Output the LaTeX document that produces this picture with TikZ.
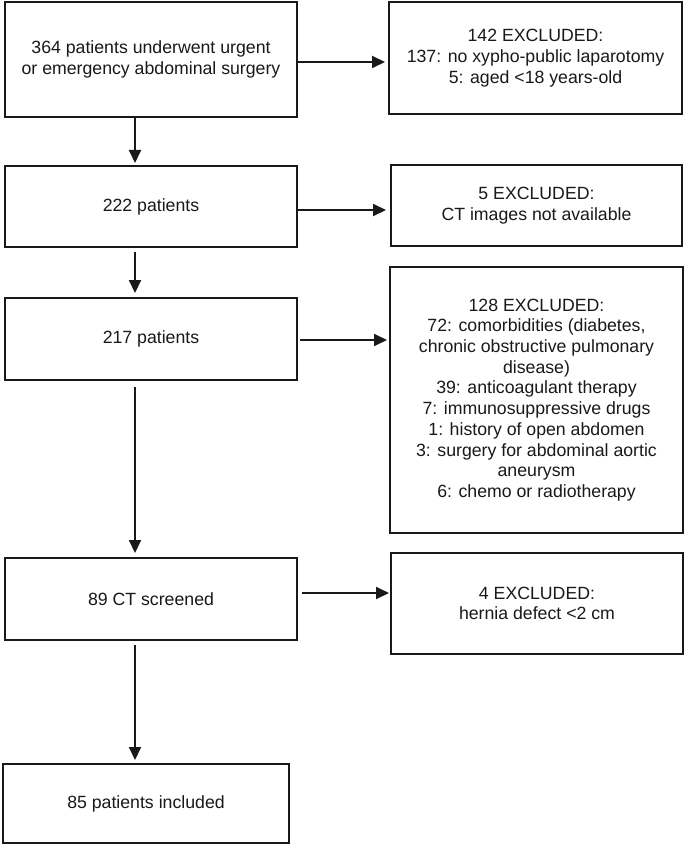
\documentclass[tikz,border=0pt]{standalone}
\usepackage{fontspec}
\setmainfont{Liberation Sans}
\usetikzlibrary{arrows.meta}
\begin{document}
\begin{tikzpicture}[x=1pt,y=-1pt,
  box/.style={draw=black!90, line width=1.9pt, align=center, inner sep=2pt, outer sep=0pt,
    font=\fontsize{17.7}{20.7}\selectfont, text=black!90},
  arr/.style={draw=black!90, line width=1.9pt, -{Triangle[length=13pt,width=12pt]}}]
\fill[white] (0,0) rectangle (685,845);
\useasboundingbox (0,0) rectangle (685,845);
% left column
\node[box, minimum width=292pt, minimum height=115pt] (b1) at (151,59.5)
  {364 patients underwent urgent\\or emergency abdominal surgery};
\node[box, minimum width=292pt, minimum height=81pt] (b2) at (151,206.5) {222 patients};
\node[box, minimum width=292pt, minimum height=82pt] (b3) at (151,339) {217 patients};
\node[box, minimum width=292pt, minimum height=82pt] (b4) at (151,599) {89 CT screened};
\node[box, minimum width=286pt, minimum height=79pt] (b5) at (146,803.5) {85 patients included};
% right column
\node[box, minimum width=293pt, minimum height=112pt] (r1) at (535.5,58)
  {142 EXCLUDED:\\137: no xypho-public laparotomy\\5: aged <18 years-old};
\node[box, minimum width=291pt, minimum height=81pt] (r2) at (536.5,205.5)
  {5 EXCLUDED:\\CT images not available};
\node[box, minimum width=293pt, minimum height=266pt] (r3) at (536.5,400)
  {128 EXCLUDED:\\72: comorbidities (diabetes,\\chronic obstructive pulmonary\\disease)\\39: anticoagulant therapy\\7: immunosuppressive drugs\\1: history of open abdomen\\3: surgery for abdominal aortic\\aneurysm\\6: chemo or radiotherapy};
\node[box, minimum width=292pt, minimum height=101pt] (r4) at (537,603.5)
  {4 EXCLUDED:\\hernia defect <2 cm};
% vertical connectors
\coordinate (cx) at (135,0);
\draw[arr, shorten <=1pt, shorten >=3pt] (b1.south -| cx) -- (b2.north -| cx);
\draw[arr, shorten <=5pt, shorten >=5pt] (b2.south -| cx) -- (b3.north -| cx);
\draw[arr, shorten <=7pt, shorten >=5pt] (b3.south -| cx) -- (b4.north -| cx);
\draw[arr, shorten <=5pt, shorten >=4pt] (b4.south -| cx) -- (b5.north -| cx);
% horizontal connectors
\draw[arr, shorten <=1pt, shorten >=4pt] ([yshift=-2.5pt]b1.east) -- ([yshift=-2.5pt]b1.east -| r1.west);
\draw[arr, shorten <=1pt, shorten >=5pt] ([yshift=-3.5pt]b2.east) -- ([yshift=-3.5pt]b2.east -| r2.west);
\draw[arr, shorten <=3pt, shorten >=3pt] ([yshift=-1pt]b3.east) -- ([yshift=-1pt]b3.east -| r3.west);
\draw[arr, shorten <=5pt, shorten >=2pt] ([yshift=6pt]b4.east) -- ([yshift=6pt]b4.east -| r4.west);
\end{tikzpicture}
\end{document}
